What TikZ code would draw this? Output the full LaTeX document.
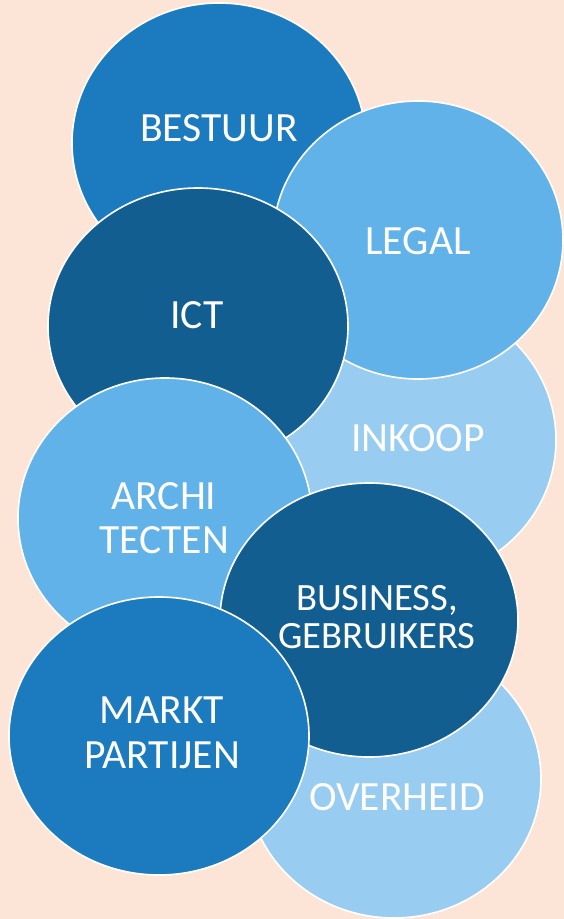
\documentclass[tikz,border=0pt]{standalone}
\usepackage{fontspec}
\setmainfont{Carlito}
\definecolor{achtergrond}{HTML}{FCE4D6}
\definecolor{middenblauw}{HTML}{1B7BBE}
\definecolor{donkerblauw}{HTML}{135E90}
\definecolor{lichtblauw}{HTML}{62B2EA}
\definecolor{bleekblauw}{HTML}{98CCF1}
\begin{document}
\begin{tikzpicture}[x=0.03cm, y=-0.03cm,
    bol/.style={fill=#1, draw=white, line width=1.4pt},
    woord/.style={text=white, align=center, font=\fontsize{35.5}{38}\selectfont}]
    \fill[achtergrond] (0,0) rectangle (564,919);
    % bovenste rij
    \filldraw[bol=middenblauw] (219,143) ellipse [x radius=147, y radius=140];
    \node[woord] (bestuur) at (219,128) {BESTUUR};
    \filldraw[bol=bleekblauw] (410,440) ellipse [x radius=146, y radius=140];
    \node[woord] (inkoop) at (418,438) {INKOOP};
    \filldraw[bol=lichtblauw] (418,240) ellipse [x radius=145, y radius=139];
    \node[woord] (legal) at (418,241) {LEGAL};
    \filldraw[bol=donkerblauw] (198,326) ellipse [x radius=150, y radius=138];
    \node[woord] (ict) at (197,315) {ICT};
    % onderste rij
    \filldraw[bol=lichtblauw] (165,518) ellipse [x radius=147, y radius=140];
    \node[woord] (architecten) at (164,518) {ARCHI\\TECTEN};
    \filldraw[bol=bleekblauw] (394,779) ellipse [x radius=147, y radius=139];
    \node[woord] (overheid) at (397,797) {OVERHEID};
    \filldraw[bol=donkerblauw] (369,620) ellipse [x radius=149, y radius=137];
    \node[woord, font=\fontsize{33}{33}\selectfont] (business) at (377,617) {BUSINESS,\\GEBRUIKERS};
    \filldraw[bol=middenblauw] (159,736) ellipse [x radius=150, y radius=139];
    \node[woord] (markt) at (162,733) {MARKT\\PARTIJEN};
\end{tikzpicture}
\end{document}
